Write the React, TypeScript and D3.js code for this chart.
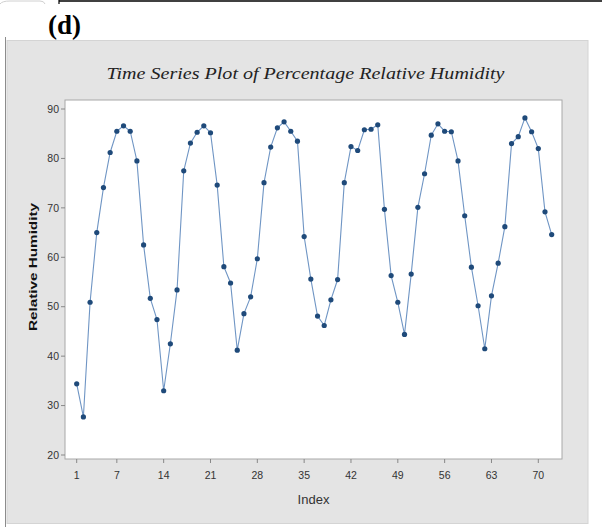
import React from "react";
import * as d3 from "d3";

const humidity: number[] = [
  34.4, 27.7, 50.9, 65.0, 74.1, 81.2, 85.5, 86.6, 85.5, 79.5,
  62.5, 51.7, 47.4, 33.0, 42.5, 53.4, 77.5, 83.1, 85.3, 86.6,
  85.2, 74.6, 58.1, 54.8, 41.2, 48.6, 52.0, 59.7, 75.1, 82.3,
  86.2, 87.4, 85.5, 83.5, 64.2, 55.6, 48.1, 46.2, 51.4, 55.5,
  75.1, 82.4, 81.6, 85.8, 85.9, 86.8, 69.7, 56.3, 50.9, 44.4,
  56.6, 70.1, 76.9, 84.7, 87.0, 85.5, 85.4, 79.5, 68.4, 58.0,
  50.2, 41.5, 52.2, 58.8, 66.2, 83.0, 84.4, 88.2, 85.4, 82.0,
  69.2, 64.6,
];
const xTicks: number[] = [1, 7, 14, 21, 28, 35, 42, 49, 56, 63, 70];
const yTicks: number[] = [20, 30, 40, 50, 60, 70, 80, 90];
const title = "Time Series Plot of Percentage Relative Humidity";
const xLabel = "Index";
const yLabel = "Relative Humidity";
const panelLabel = "(d)";

export default function App() {
  const W = 602, H = 527;
  const plot = { left: 65, right: 562, top: 100, bottom: 459 };
  const x = d3.scaleLinear().domain([1, 70]).range([76.7, 538.3]);
  const y = d3.scaleLinear().domain([20, 90]).range([455, 109]);
  const pts = humidity.map((v, i) => [i + 1, v] as [number, number]);
  const line = d3.line<[number, number]>().x(d => x(d[0])).y(d => y(d[1]));
  const tickFont = "'Liberation Sans', Arial, sans-serif";
  return (
    <svg width={W} height={H} style={{ position: "absolute", left: 0, top: 0, background: "#fff" }}>
      {/* top decorations */}
      <path d="M0,4 Q2,1 10,1 L40,1 Q44,1 45,4" fill="none" stroke="#d0d0d0" strokeWidth={1} />
      <line x1={59} y1={1} x2={602} y2={1} stroke="#000" strokeWidth={1.6} />
      <line x1={59} y1={0} x2={59} y2={4} stroke="#000" strokeWidth={1.2} />
      <text x={48} y={34} fontFamily="'Liberation Serif', 'Times New Roman', serif" fontWeight="bold" fontSize={27} fill="#000">{panelLabel}</text>
      {/* outer panel */}
      <line x1={5.5} y1={37} x2={5.5} y2={H} stroke="#8c8c8c" strokeWidth={1} />
      <rect x={7} y={40.5} width={581} height={483} fill="#e4e4e4" stroke="#d4d4d4" strokeWidth={1} />
      <text x={305.5} y={79} textAnchor="middle" fontFamily="'Liberation Serif', 'Times New Roman', serif" fontStyle="italic" fontSize={16} fill="#222" textLength={398} lengthAdjust="spacingAndGlyphs">{title}</text>
      {/* plot area */}
      <rect x={plot.left} y={plot.top} width={plot.right - plot.left} height={plot.bottom - plot.top} fill="#fff" stroke="#a8a8a8" strokeWidth={1} />
      {/* y axis ticks */}
      {yTicks.map(t => (
        <g key={"y" + t}>
          <line x1={plot.left - 4} x2={plot.left} y1={y(t)} y2={y(t)} stroke="#888" strokeWidth={1} />
          <text x={plot.left - 6} y={y(t)} dy="0.35em" textAnchor="end" fontFamily={tickFont} fontSize={10.5} fill="#333">{t}</text>
        </g>
      ))}
      {/* x axis ticks */}
      {xTicks.map(t => (
        <g key={"x" + t}>
          <line x1={x(t)} x2={x(t)} y1={plot.bottom} y2={plot.bottom + 4} stroke="#888" strokeWidth={1} />
          <text x={x(t)} y={479} textAnchor="middle" fontFamily={tickFont} fontSize={10.5} fill="#333">{t}</text>
        </g>
      ))}
      <text x={313.5} y={504} textAnchor="middle" fontFamily={tickFont} fontSize={13} fill="#333">{xLabel}</text>
      <text transform={`translate(37,267) rotate(-90)`} textAnchor="middle" fontFamily={tickFont} fontWeight="bold" fontSize={11} fill="#111" textLength={128} lengthAdjust="spacingAndGlyphs">{yLabel}</text>
      {/* series */}
      <path d={line(pts) || ""} fill="none" stroke="#6f95c4" strokeWidth={1.1} />
      {pts.map((p, i) => (
        <circle key={i} cx={x(p[0])} cy={y(p[1])} r={2.6} fill="#1f4a7a" />
      ))}
    </svg>
  );
}
